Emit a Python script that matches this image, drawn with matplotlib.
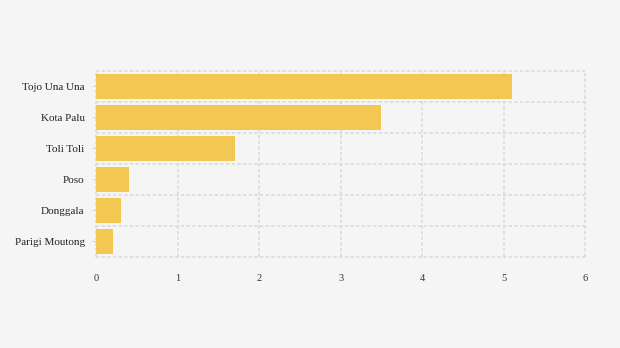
import matplotlib.pyplot as plt
import numpy as np

regions = ["Tojo Una Una", "Kota Palu", "Toli Toli", "Poso", "Donggala", "Parigi Moutong"]
values = [5.1, 3.5, 1.7, 0.4, 0.3, 0.2]
x_ticks = [0, 1, 2, 3, 4, 5, 6]

bg = "#f5f5f5"
bar_color = "#f2c752"
grid_color = "#d9d9d9"

plt.rcParams["font.family"] = ["Liberation Serif", "DejaVu Serif"]

fig = plt.figure(figsize=(6.2, 3.48), dpi=100, facecolor=bg)
ax = fig.add_axes([0.1556, 0.2615, 0.7879, 0.5345], facecolor=bg)

y = np.arange(len(regions))
ax.barh(y, values, height=0.78, color=bar_color, zorder=2)

ax.set_xlim(0, 6)
ax.set_ylim(len(regions) - 0.5, -0.5)
ax.set_xticks(x_ticks)
ax.set_xticklabels([str(t) for t in x_ticks])
ax.set_yticks(y)
ax.set_yticklabels(regions)
ax.set_yticks(np.arange(len(regions) + 1) - 0.5, minor=True)

for s in ax.spines.values():
    s.set_visible(False)

dash = (0, (2.2, 1.5))
ax.grid(axis="x", which="major", color=grid_color, linestyle=dash, linewidth=1.1, zorder=1)
ax.grid(axis="y", which="minor", color=grid_color, linestyle=dash, linewidth=1.1, zorder=1)
ax.set_axisbelow(True)
for t in ax.xaxis.get_major_ticks() + ax.yaxis.get_minor_ticks():
    t.gridline.set_clip_on(False)

ax.tick_params(axis="x", which="major", length=0, pad=12, labelsize=7.5, labelcolor="#333333")
ax.tick_params(axis="y", which="major", length=3, color=grid_color, pad=5.5, labelsize=8, labelcolor="#222222")
ax.tick_params(axis="y", which="minor", length=0)

fig.savefig("out.png", dpi=100, facecolor=bg)
